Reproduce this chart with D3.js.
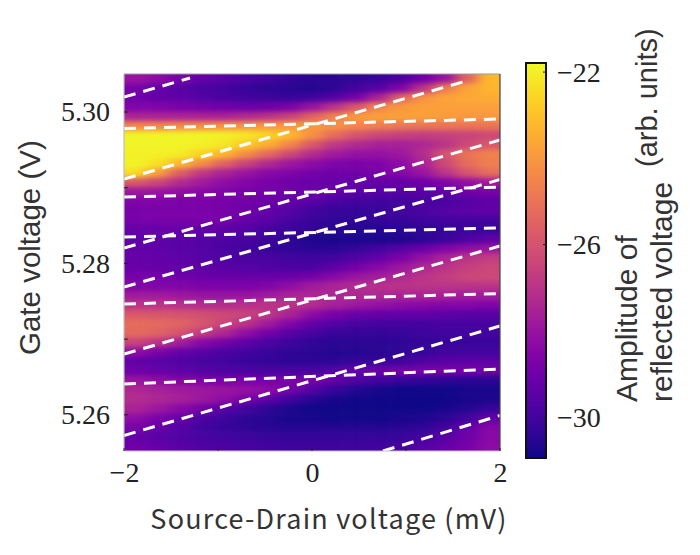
<!DOCTYPE html>
<html><head><meta charset="utf-8">
<script src="https://cdn.jsdelivr.net/npm/d3@7"></script>
<style>html,body{margin:0;padding:0;background:#fff}svg{display:block}</style>
</head><body><svg id="c" width="700" height="555"></svg>
<script>
const xTicks=[-2,0,2];
const xMinor=[-1,1];
const yTicks=[5.26,5.28,5.30];
const yMinor=[5.27,5.29];
const cbTicks=[-22,-26,-30];
const xTitle="Source-Drain voltage (mV)";
const yTitle="Gate voltage (V)";
const cbTitleA="Amplitude of";
const cbTitleB="reflected voltage";
const cbTitleC="(arb. units)";
const steepStartX=[-2,-2,-2,-2,-2,-2,0.755];
const steepStartV=[5.30198,5.29115,5.28203,5.27688,5.26803,5.25727,5.25522];
const steepEndX=[-1.298,1.681,2,2,2,2,2];
const steepEndV=[5.30449,5.30423,5.2963,5.29108,5.2823,5.27173,5.25991];
const flatStartV=[5.29782,5.28877,5.28349,5.27464,5.26407];
const flatEndV=[5.29908,5.29009,5.28468,5.27602,5.26605];
// amplitude grid: rows top (high gate voltage) to bottom, columns -2 to 2 mV
const amplitude=[
[-28,-28.3,-28.8,-29.2,-29.5,-29.8,-30,-30.3,-30.5,-30.5,-30.4,-30.2,-29.8,-29,-28,-25.5,-23.2],
[-28.8,-29.2,-29.5,-29.8,-30,-30.2,-30.4,-30.5,-30.6,-30.4,-30,-29.5,-28.6,-27,-24.8,-23.7,-23.3],
[-29,-29.2,-29.4,-29.6,-29.8,-30,-30.1,-30.2,-30,-29.6,-28.8,-27.5,-25.5,-24.2,-23.7,-23.6,-23.5],
[-28.6,-28.6,-28.8,-28.9,-29,-29.1,-29,-28.7,-28,-27,-25.8,-24.5,-24,-23.8,-23.8,-23.8,-23.8],
[-27.5,-27.5,-27.5,-27.5,-27.5,-27.3,-27,-26.5,-25.5,-24.6,-24,-23.8,-23.8,-23.8,-23.9,-24,-24],
[-24.5,-24.5,-24.4,-24.3,-24.2,-24.1,-24,-23.9,-24,-24.2,-24.5,-24.7,-24.9,-25,-25,-25,-25],
[-21.9,-21.9,-21.9,-21.9,-22,-22.2,-22.6,-23.2,-24.2,-25.2,-26,-26.4,-26.6,-26.7,-26.6,-26.5,-26.3],
[-21.9,-21.9,-21.9,-22,-22.2,-22.8,-23.5,-24.5,-25.8,-26.8,-27.3,-27.6,-27.6,-27.4,-27,-26.3,-25.8],
[-22,-22,-22.1,-22.6,-23.3,-24.3,-25.3,-26.3,-27.2,-27.8,-28.1,-28.1,-27.9,-27.2,-26,-25,-24.6],
[-21.9,-22.3,-23.2,-24.3,-25.5,-26.5,-27.3,-27.9,-28.3,-28.6,-28.7,-28.6,-28.3,-27.5,-26.3,-25.2,-24.7],
[-22.4,-23.8,-25.6,-26.8,-27.5,-28,-28.4,-28.6,-28.9,-29,-29,-28.8,-28.5,-28,-27,-26,-25.2],
[-25.8,-26.4,-27.2,-27.8,-28.2,-28.5,-28.8,-29,-29.1,-29.2,-29.3,-29.3,-29.2,-29,-28.6,-28.1,-27.8],
[-27.9,-28,-28.2,-28.4,-28.6,-28.8,-28.9,-29,-29.1,-29.3,-29.5,-29.6,-29.6,-29.5,-29.3,-29,-28.8],
[-28.6,-28.6,-28.7,-28.7,-28.8,-28.9,-29.1,-29.2,-29.5,-29.8,-30,-30,-30,-29.9,-29.8,-29.6,-29.4],
[-28.8,-28.7,-28.7,-28.7,-28.8,-29,-29.3,-29.6,-30,-30.2,-30.3,-30.2,-30,-29.8,-29.6,-29.4,-29.3],
[-28.8,-28.8,-28.8,-28.8,-28.9,-29.2,-29.5,-29.9,-30.2,-30.4,-30.4,-30.3,-30.2,-30.1,-30,-30,-30],
[-29.2,-29.2,-29.2,-29.3,-29.4,-29.6,-29.9,-30.1,-30.3,-30.5,-30.6,-30.6,-30.5,-30.4,-30.3,-30.2,-30.2],
[-29.4,-29.4,-29.5,-29.6,-29.7,-29.9,-30.1,-30.4,-30.7,-30.8,-30.8,-30.8,-30.7,-30.5,-30.2,-29.8,-29.4],
[-29.3,-29.4,-29.5,-29.6,-29.8,-30,-30.2,-30.4,-30.5,-30.5,-30.3,-30,-29.6,-29.1,-28.6,-28.2,-28],
[-29.2,-29.3,-29.4,-29.6,-29.7,-29.8,-29.9,-30,-30.1,-30,-29.7,-29.3,-28.7,-28.1,-27.5,-27,-26.7],
[-29.1,-29.2,-29.3,-29.4,-29.5,-29.6,-29.7,-29.8,-29.8,-29.4,-28.9,-28.4,-27.9,-27.4,-27,-26.6,-26.4],
[-28.8,-28.9,-29,-29.1,-29.2,-29.2,-29.2,-29.1,-28.9,-28.4,-28,-27.7,-27.4,-27,-26.7,-26.4,-26.3],
[-28.6,-28.6,-28.6,-28.7,-28.7,-28.7,-28.6,-28.2,-27.8,-27.5,-27.3,-27.1,-27,-27,-27,-27,-27],
[-27.8,-27.8,-27.9,-28,-28,-28,-27.8,-27.5,-27.4,-27.4,-27.4,-27.4,-27.5,-27.5,-27.6,-27.7,-27.8],
[-27,-27,-27.1,-27.2,-27.2,-27.1,-27,-27,-27.2,-27.6,-27.9,-28.1,-28.3,-28.4,-28.5,-28.5,-28.6],
[-25.8,-25.9,-26,-26.1,-26.3,-26.5,-26.9,-27.5,-28.3,-28.8,-29.1,-29.2,-29.3,-29.3,-29.4,-29.5,-29.5],
[-25.2,-25.3,-25.5,-25.9,-26.4,-27,-27.8,-28.5,-29.2,-29.6,-29.9,-30,-30,-30,-29.9,-29.9,-29.9],
[-25.3,-25.5,-26,-26.7,-27.4,-28.2,-28.9,-29.5,-29.9,-30.2,-30.3,-30.3,-30.2,-30.1,-30,-30,-30],
[-26.5,-27,-27.7,-28.4,-28.9,-29.4,-29.8,-30.1,-30.4,-30.5,-30.5,-30.5,-30.4,-30.3,-30.2,-30.2,-30.2],
[-28.2,-28.7,-29.2,-29.5,-29.8,-30,-30.2,-30.4,-30.5,-30.6,-30.6,-30.5,-30.4,-30.2,-30,-30,-30],
[-29.3,-29.5,-29.7,-29.9,-30,-30.2,-30.3,-30.4,-30.4,-30.4,-30.3,-30.2,-30,-29.7,-29.5,-29.4,-29.4],
[-29,-29.2,-29.4,-29.6,-29.7,-29.8,-29.9,-29.9,-29.9,-29.6,-29.3,-29.1,-28.9,-28.8,-28.8,-28.9,-29],
[-28,-28.2,-28.5,-28.6,-28.8,-28.8,-28.8,-28.7,-28.8,-29.3,-29.7,-30,-30.2,-30.3,-30.4,-30.5,-30.5],
[-27.4,-27.6,-27.8,-27.9,-28,-28.1,-28.3,-28.9,-29.6,-30.2,-30.6,-30.8,-30.9,-30.9,-30.9,-30.8,-30.8],
[-27.2,-27.4,-27.6,-27.9,-28.2,-28.7,-29.4,-30,-30.5,-30.8,-30.9,-30.9,-30.9,-30.9,-30.9,-30.8,-30.7],
[-27.5,-27.9,-28.4,-28.9,-29.5,-30,-30.4,-30.7,-30.9,-30.9,-30.9,-30.9,-30.9,-30.9,-30.8,-30.6,-30.2],
[-28.2,-28.7,-29.2,-29.7,-30.1,-30.4,-30.6,-30.8,-30.8,-30.9,-30.9,-30.9,-30.8,-30.7,-30.5,-30,-29.4],
[-28.8,-29.2,-29.6,-30,-30.2,-30.4,-30.5,-30.6,-30.6,-30.6,-30.6,-30.6,-30.5,-30.4,-30,-29.3,-28.5],
[-29.2,-29.5,-29.7,-29.9,-30,-30.1,-30.2,-30.3,-30.3,-30.3,-30.3,-30.3,-30.2,-30,-29.6,-29,-28.4],
[-29,-29.2,-29.5,-29.7,-29.8,-29.9,-30,-30.1,-30.1,-30.1,-30.1,-30,-29.9,-29.6,-29.2,-28.8,-28.3]
];

const svg=d3.select("#c");
const L=124,R=500,T=74,B=451;
const x=d3.scaleLinear().domain([-2,2]).range([L,R]);
const y=d3.scaleLinear().domain([5.25522,5.30502]).range([B,T]);
const colX=d3.scaleBand().domain(d3.range(amplitude[0].length)).range([L,R]);
const rowY=d3.scaleBand().domain(d3.range(amplitude.length)).range([T,B]);
const color=d3.scaleSequential(d3.interpolatePlasma).domain([-30.95,-21.79]);

const defs=svg.append("defs");
defs.append("clipPath").attr("id","plot").append("rect").attr("x",L).attr("y",T).attr("width",R-L).attr("height",B-T);
const f=defs.append("filter").attr("id","soft").attr("filterUnits","userSpaceOnUse")
  .attr("x",0).attr("y",0).attr("width",700).attr("height",555).attr("color-interpolation-filters","sRGB");
f.append("feGaussianBlur").attr("stdDeviation","6.5 2.4");

const pad=40;
const heat=svg.append("g").attr("clip-path","url(#plot)").append("g").attr("filter","url(#soft)");
amplitude.forEach((row,r)=>{
  heat.selectAll(null).data(row).join("rect")
    .attr("x",(d,c)=>colX(c)-(c===0?pad:0))
    .attr("width",(d,c)=>colX.bandwidth()+(c===0||c===row.length-1?pad:0)+0.5)
    .attr("y",rowY(r)-(r===0?pad:0))
    .attr("height",rowY.bandwidth()+(r===0||r===amplitude.length-1?pad:0)+0.5)
    .attr("fill",d=>color(d));
});

const lines=svg.append("g").attr("clip-path","url(#plot)");
const dash=sel=>sel.attr("stroke","#fff").attr("stroke-width",3).attr("stroke-dasharray","12 8").attr("fill","none");
lines.selectAll("line.s").data(steepStartX).join("line").attr("class","s")
  .attr("x1",d=>x(d)).attr("y1",(d,i)=>y(steepStartV[i]))
  .attr("x2",(d,i)=>x(steepEndX[i])).attr("y2",(d,i)=>y(steepEndV[i])).call(dash);
lines.selectAll("line.f").data(flatStartV).join("line").attr("class","f")
  .attr("x1",x(-2)).attr("y1",d=>y(d))
  .attr("x2",x(2)).attr("y2",(d,i)=>y(flatEndV[i])).call(dash);

// frame
const frame=[[L,T,R,T,"#999"],[R,T,R,B,"#444"],[L,T,L,B,"#b9c4b4"],[L,B,R,B,"#c9c0e6"]];
svg.append("g").selectAll("line").data(frame).join("line")
  .attr("x1",d=>d[0]).attr("y1",d=>d[1]).attr("x2",d=>d[2]).attr("y2",d=>d[3])
  .attr("stroke",d=>d[4]).attr("stroke-width",1.2);

const serif="'Liberation Serif',serif";
const ax=svg.append("g").attr("transform",`translate(0,${B})`)
  .call(d3.axisBottom(x).tickValues(xTicks).tickSize(0).tickPadding(11).tickFormat(d=>String(d).replace("-","\u2212")));
ax.select(".domain").remove();
ax.selectAll("text").attr("font-family",serif).attr("font-size",28).attr("fill","#222");
const ay=svg.append("g").attr("transform",`translate(${L},0)`)
  .call(d3.axisLeft(y).tickValues(yTicks).tickSize(0).tickPadding(14).tickFormat(d3.format(".2f")));
ay.select(".domain").remove();
ay.selectAll("text").attr("font-family",serif).attr("font-size",28).attr("fill","#222");
// inward ticks
const tk=svg.append("g").attr("stroke","#222").attr("stroke-width",1);
tk.selectAll("line.yt").data(yTicks.concat(yMinor)).join("line").attr("class","yt")
  .attr("x1",L).attr("x2",L+4).attr("y1",d=>y(d)).attr("y2",d=>y(d));
tk.selectAll("line.xt").data(xTicks.concat(xMinor)).join("line").attr("class","xt")
  .attr("y1",B).attr("y2",B-3).attr("x1",d=>x(d)).attr("x2",d=>x(d));

const cjk="'Noto Sans CJK JP','Noto Sans',sans-serif";
const sans="'Liberation Sans',Arial,sans-serif";
svg.append("text").attr("x",329).attr("y",529).attr("text-anchor","middle")
  .attr("font-family",cjk).attr("font-size",27).attr("letter-spacing",1.2).attr("fill","#333").text(xTitle);
svg.append("text").attr("transform","translate(40,355) rotate(-90)")
  .attr("font-family",sans).attr("font-size",29.5).attr("fill","#333").text(yTitle);

// colour bar
const cbT=63,cbB=458,cbL=526,cbR=546;
const cy=d3.scaleLinear().domain([-21.79,-30.95]).range([cbT,cbB]);
const steps=d3.range(cbT,cbB,1);
svg.append("g").selectAll("rect").data(steps).join("rect")
  .attr("x",cbL).attr("width",cbR-cbL).attr("y",d=>d).attr("height",1.5)
  .attr("fill",d=>color(cy.invert(d+0.5)));
svg.append("rect").attr("x",cbL).attr("y",cbT).attr("width",cbR-cbL).attr("height",cbB-cbT)
  .attr("fill","none").attr("stroke","#111").attr("stroke-width",2);
const ac=svg.append("g").attr("transform",`translate(${cbR},0)`)
  .call(d3.axisRight(cy).tickValues(cbTicks).tickSize(0).tickPadding(11).tickFormat(d=>String(d).replace("-","\u2212")));
ac.select(".domain").remove();
ac.selectAll("text").attr("font-family",serif).attr("font-size",28).attr("fill","#222");
svg.append("g").selectAll("line").data(cbTicks).join("line")
  .attr("x1",cbR-3).attr("x2",cbR).attr("y1",d=>cy(d)).attr("y2",d=>cy(d)).attr("stroke","#222");

const cbt=[[cbTitleA,637,402,30],[cbTitleB,672,402,30],[cbTitleC,657,167,29]];
svg.append("g").selectAll("text").data(cbt).join("text")
  .attr("transform",d=>`translate(${d[1]},${d[2]}) rotate(-90)`)
  .attr("font-family",sans).attr("font-size",d=>d[3]).attr("fill","#333").text(d=>d[0]);
</script></body></html>
